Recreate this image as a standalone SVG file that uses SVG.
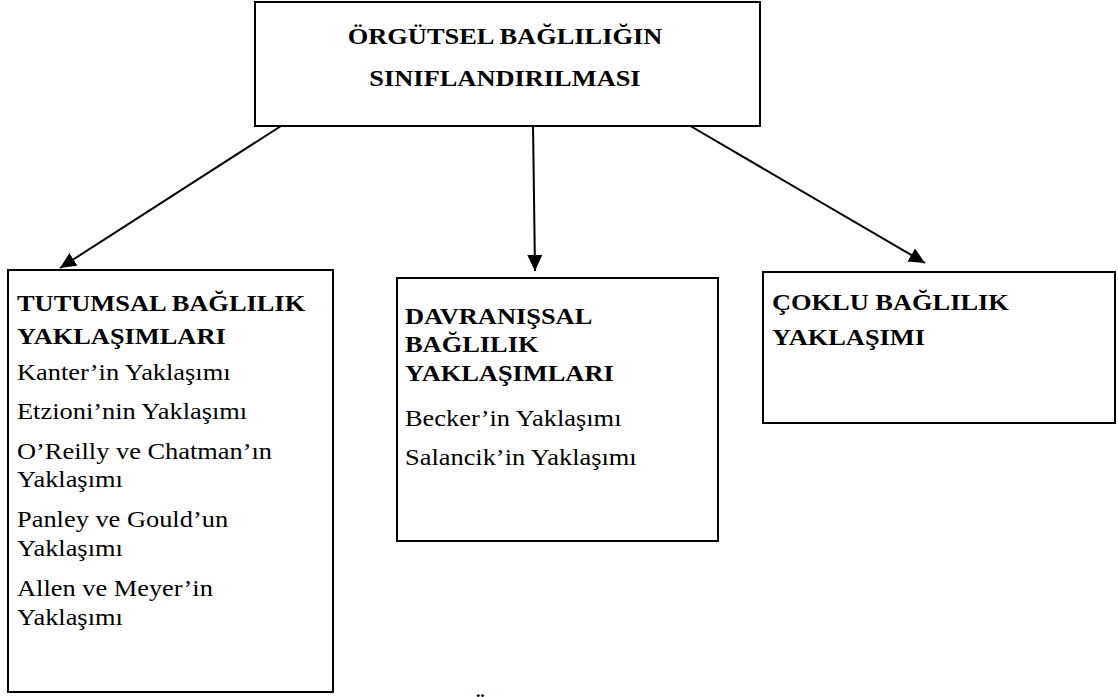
<svg xmlns="http://www.w3.org/2000/svg" width="1118" height="697" viewBox="0 0 1118 697">
<style>
.box{fill:#fff;stroke:#000;stroke-width:2}
.t{font-family:"Liberation Serif","Times New Roman",serif;font-size:24px;fill:#000}
.b{font-weight:bold}
.conn line{stroke:#000;stroke-width:2;marker-end:url(#ah)}
</style>
<defs>
<marker id="ah" markerUnits="userSpaceOnUse" markerWidth="17" markerHeight="16" refX="16" refY="7.5" orient="auto" viewBox="0 0 17 16">
<path d="M0,0 L16,7.5 L0,15 z" fill="#000"/>
</marker>
</defs>
<rect width="1118" height="697" fill="#fff"/>
<g id="connectors" class="conn">
<line x1="281" y1="126" x2="60" y2="268"/>
<line x1="533" y1="124" x2="535" y2="271"/>
<line x1="687" y1="124" x2="925" y2="263"/>
</g>
<g id="root">
<rect class="box" x="255" y="2" width="505" height="124"/>
<text class="t b" text-anchor="middle" transform="translate(505,44) scale(1.1,1)">ÖRGÜTSEL BAĞLILIĞIN</text>
<text class="t b" text-anchor="middle" transform="translate(505,86) scale(1.1,1)">SINIFLANDIRILMASI</text>
</g>
<g id="tutumsal">
<rect class="box" x="8" y="270" width="325" height="422"/>
<text class="t b" transform="translate(17,311) scale(1.1,1)">TUTUMSAL BAĞLILIK</text>
<text class="t b" transform="translate(17,344) scale(1.1,1)">YAKLAŞIMLARI</text>
<text class="t" transform="translate(17,380) scale(1.1,1)">Kanter’in Yaklaşımı</text>
<text class="t" transform="translate(17,419) scale(1.1,1)">Etzioni’nin Yaklaşımı</text>
<text class="t" transform="translate(17,459) scale(1.1,1)">O’Reilly ve Chatman’ın</text>
<text class="t" transform="translate(17,487) scale(1.1,1)">Yaklaşımı</text>
<text class="t" transform="translate(17,527) scale(1.1,1)">Panley ve Gould’un</text>
<text class="t" transform="translate(17,556) scale(1.1,1)">Yaklaşımı</text>
<text class="t" transform="translate(17,596) scale(1.1,1)">Allen ve Meyer’in</text>
<text class="t" transform="translate(17,625) scale(1.1,1)">Yaklaşımı</text>
</g>
<g id="davranissal">
<rect class="box" x="397" y="278" width="321" height="263"/>
<text class="t b" transform="translate(405,324) scale(1.1,1)">DAVRANIŞSAL</text>
<text class="t b" transform="translate(405,352) scale(1.1,1)">BAĞLILIK</text>
<text class="t b" transform="translate(405,381) scale(1.1,1)">YAKLAŞIMLARI</text>
<text class="t" transform="translate(405,426) scale(1.1,1)">Becker’in Yaklaşımı</text>
<text class="t" transform="translate(405,465) scale(1.1,1)">Salancik’in Yaklaşımı</text>
</g>
<g id="coklu">
<rect class="box" x="763" y="272" width="352" height="151"/>
<text class="t b" transform="translate(772,310) scale(1.1,1)">ÇOKLU BAĞLILIK</text>
<text class="t b" transform="translate(772,345) scale(1.1,1)">YAKLAŞIMI</text>
</g>
<text class="t b" transform="translate(470,714) scale(1.1,1)">Ö</text>
</svg>
